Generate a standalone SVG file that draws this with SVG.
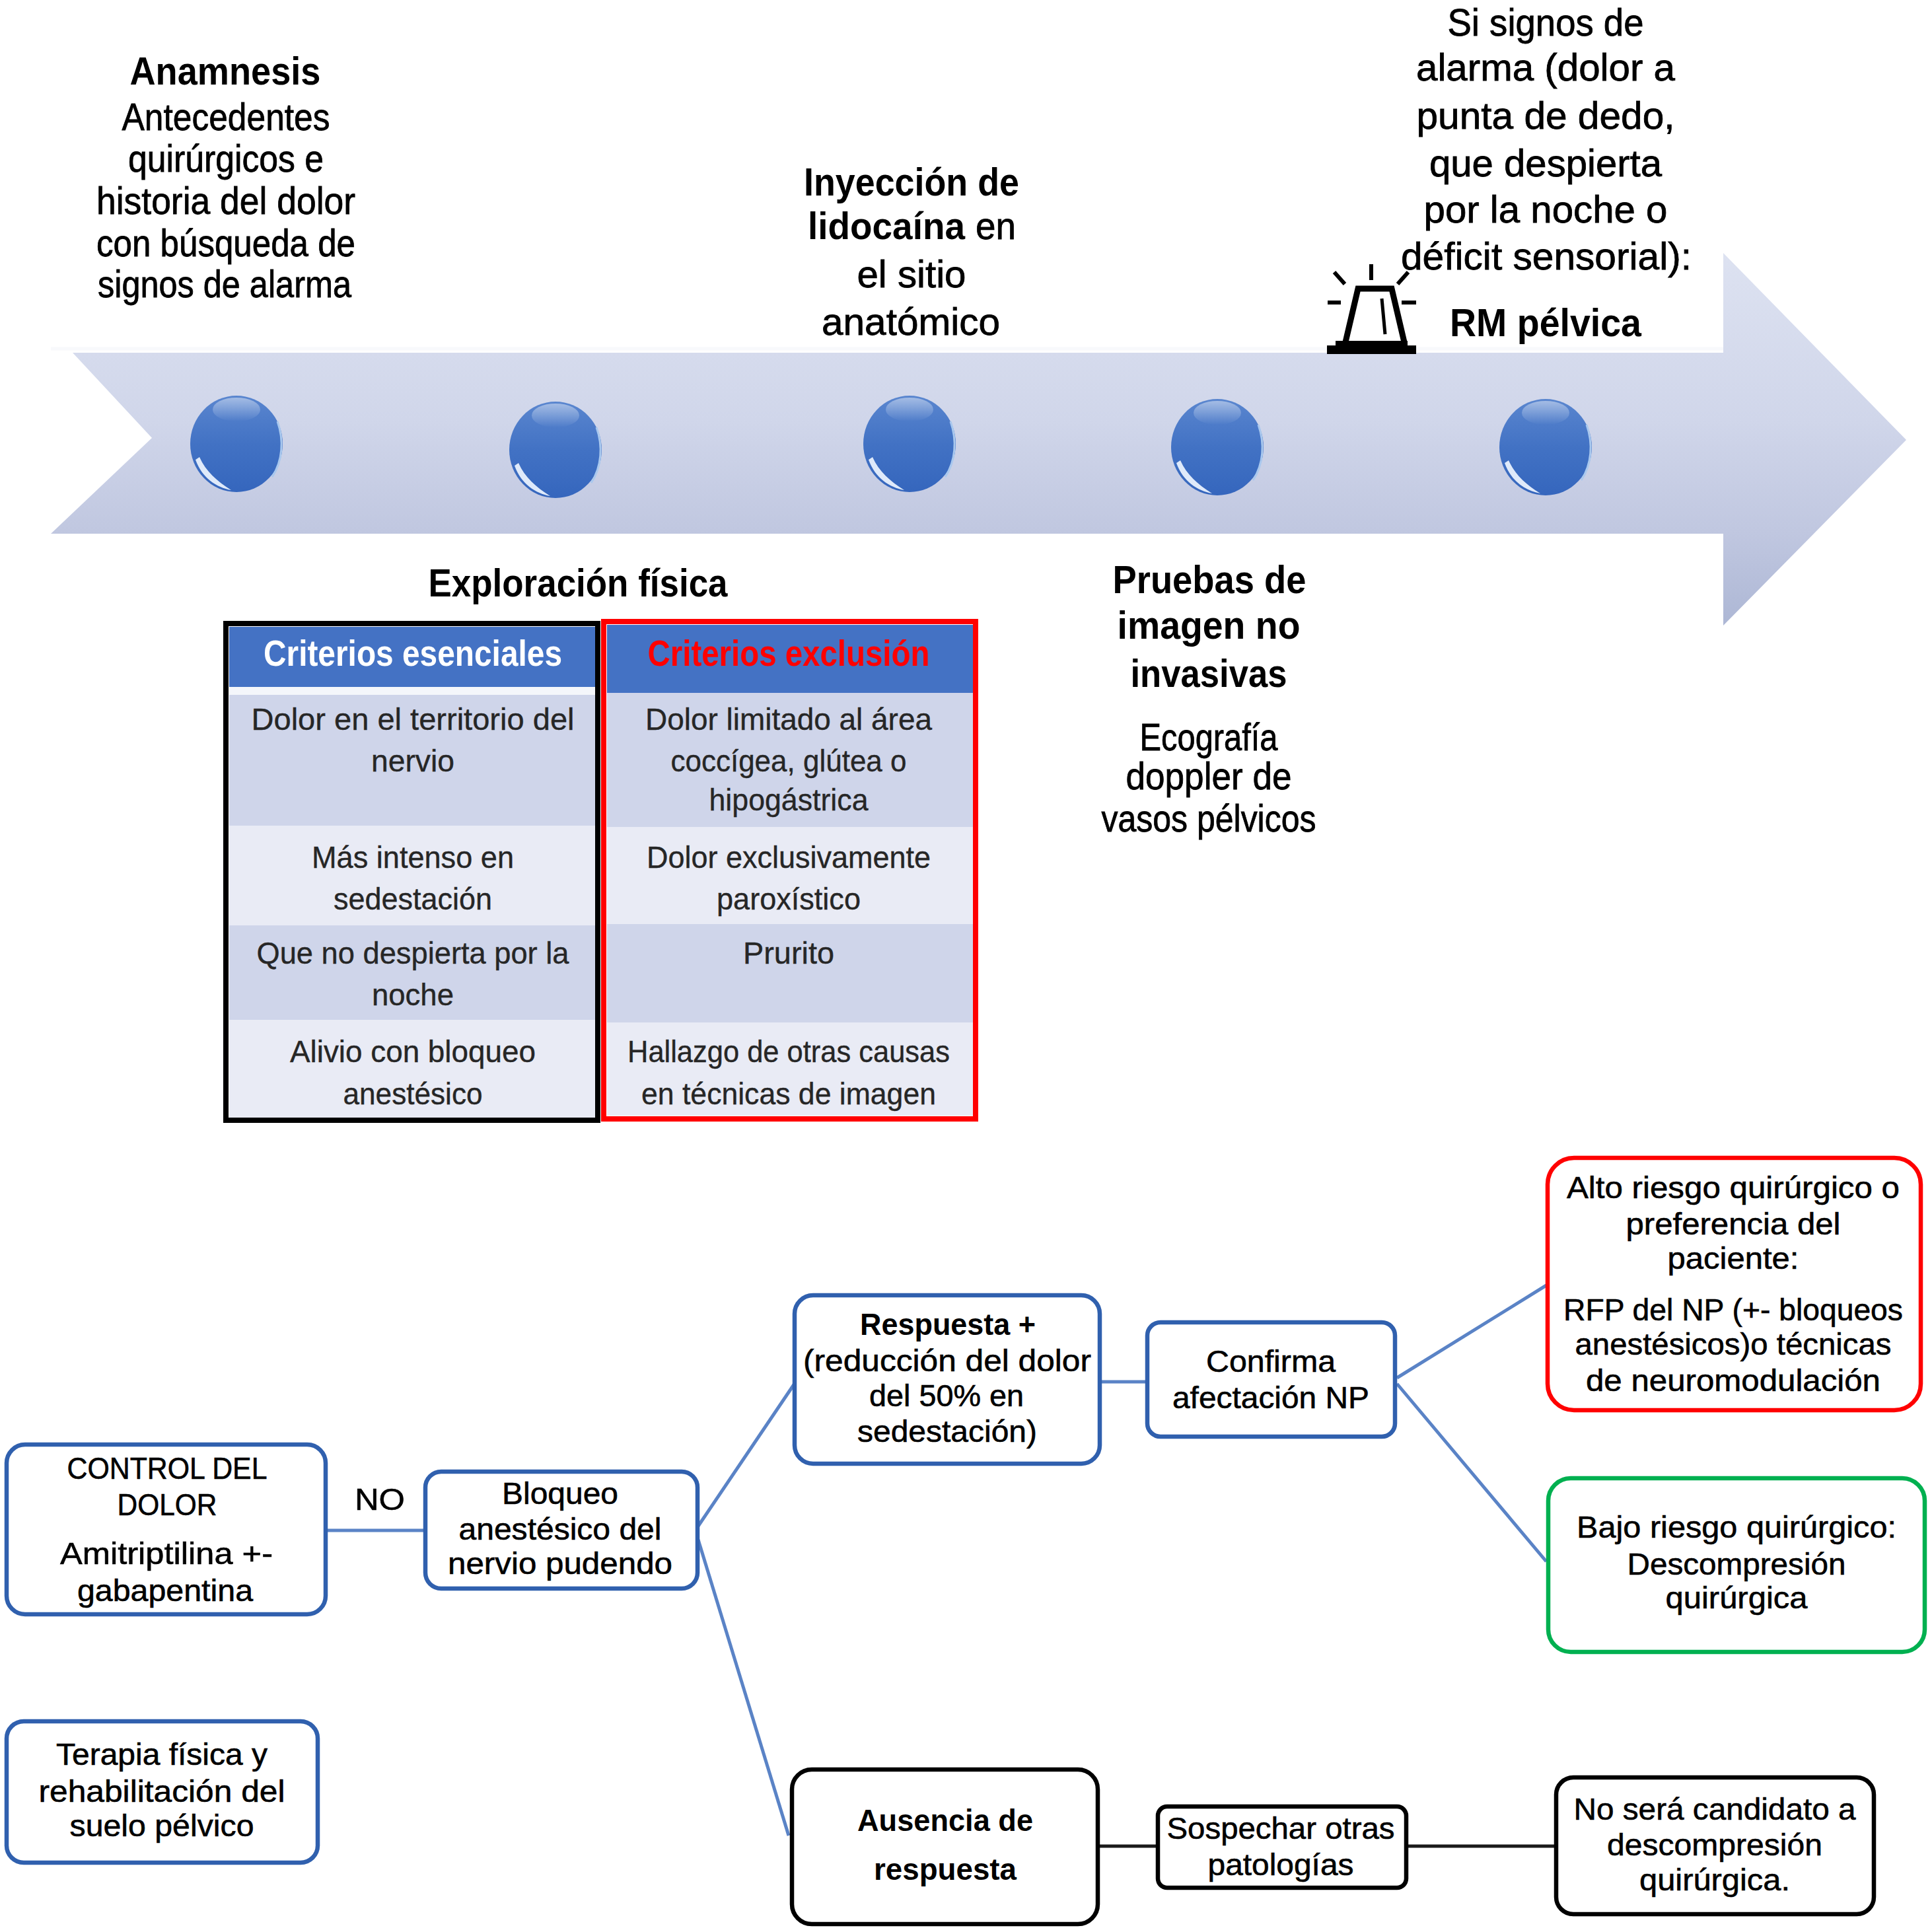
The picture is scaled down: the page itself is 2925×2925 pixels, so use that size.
<svg xmlns="http://www.w3.org/2000/svg" xmlns:xlink="http://www.w3.org/1999/xlink" width="2925" height="2925" viewBox="0 0 2925 2925">
<style>
text{font-family:"Liberation Sans",Arial,sans-serif;text-anchor:middle;fill:#000;}
.r{font-size:57px;stroke:#000;stroke-width:0.8px;}
.b{font-size:60px;font-weight:bold;}
.bb{font-size:57px;font-weight:bold;text-anchor:start;}
.rs{font-size:57px;stroke:#000;stroke-width:0.8px;text-anchor:start;}
.th{font-size:47px;fill:#262626;stroke:#262626;stroke-width:0.4px;}
.hd{font-size:56px;font-weight:bold;}
.f{font-size:46px;stroke:#000;stroke-width:0.6px;}
.fb{font-size:46px;font-weight:bold;}
.box{fill:#fff;stroke-width:6.5;}
.blue{stroke:#3060ae;}
.black{stroke:#000;}
.link{stroke:#5a83c6;stroke-width:5;fill:none;}
.linkk{stroke:#1a1a1a;stroke-width:5;fill:none;}
.c1{fill:#cfd5ea;}
.c2{fill:#e9ebf5;}
.hdr{fill:#4472c4;}
</style>
<defs>
<linearGradient id="arrowG" gradientUnits="userSpaceOnUse" x1="0" y1="383" x2="0" y2="947">
<stop offset="0" stop-color="#dde2f1"/><stop offset="0.45" stop-color="#d0d6ea"/><stop offset="0.75" stop-color="#c0c7e0"/><stop offset="1" stop-color="#adb7d5"/>
</linearGradient>
<linearGradient id="ballG" x1="0" y1="0" x2="0" y2="1">
<stop offset="0" stop-color="#5a86cf"/><stop offset="0.5" stop-color="#4272c4"/><stop offset="1" stop-color="#3566bd"/>
</linearGradient>
<linearGradient id="ballH" x1="0" y1="0" x2="0" y2="1">
<stop offset="0" stop-color="#fff" stop-opacity="0.45"/><stop offset="1" stop-color="#fff" stop-opacity="0"/>
</linearGradient>
<g id="ball">
<ellipse cx="0" cy="0" rx="70" ry="73" fill="url(#ballG)"/>
<ellipse cx="0" cy="-52" rx="36" ry="18" fill="url(#ballH)"/>
<path d="M-62,24 C-52,52 -30,66 -8,70 C-30,56 -46,42 -56,20 Z" fill="#dfeafa"/>
<path d="M62,-34 C72,-6 70,26 54,50" fill="none" stroke="#a9c8ee" stroke-width="3"/>
</g>
</defs>

<g id="timeline-arrow">
<path d="M77,528 H2610" stroke="#f8f9fc" stroke-width="5" fill="none"/>
<polygon points="110,534 2609,534 2609,383 2886,666 2609,947 2609,808 77,808 230,663" fill="url(#arrowG)"/>
</g>
<g id="ball-1"><use xlink:href="#ball" href="#ball" x="358" y="672"/></g>
<g id="ball-2"><use xlink:href="#ball" href="#ball" x="841" y="681"/></g>
<g id="ball-3"><use xlink:href="#ball" href="#ball" x="1377" y="672"/></g>
<g id="ball-4"><use xlink:href="#ball" href="#ball" x="1843" y="677"/></g>
<g id="ball-5"><use xlink:href="#ball" href="#ball" x="2340" y="677"/></g>

<g id="alarm-icon" fill="none" stroke="#000">
<rect x="2009" y="523" width="135" height="13" fill="#000" stroke="none"/>
<path d="M2022,523 V516 H2131 V523 Z" fill="#000" stroke="none"/>
<path d="M2037,518 L2056,437 H2107 L2126,518" stroke-width="9"/>
<path d="M2092,452 L2097,506" stroke-width="5"/>
<path d="M2076,400 V424 M2020,412 L2036,430 M2132,412 L2116,430 M2010,458 H2030 M2122,458 H2144" stroke-width="6"/>
</g>

<g id="anamnesis" transform="translate(0,2)">
<text class="b" x="341" y="126" textLength="289" lengthAdjust="spacingAndGlyphs">Anamnesis</text>
<text class="r" x="342" y="195" textLength="315" lengthAdjust="spacingAndGlyphs">Antecedentes</text>
<text class="r" x="342" y="258" textLength="296" lengthAdjust="spacingAndGlyphs">quirúrgicos e</text>
<text class="r" x="342" y="322" textLength="392" lengthAdjust="spacingAndGlyphs">historia del dolor</text>
<text class="r" x="342" y="386" textLength="392" lengthAdjust="spacingAndGlyphs">con búsqueda de</text>
<text class="r" x="340" y="448" textLength="384" lengthAdjust="spacingAndGlyphs">signos de alarma</text>
</g>
<g id="inyeccion" transform="translate(0,1)">
<text class="b" x="1380" y="295" textLength="326" lengthAdjust="spacingAndGlyphs">Inyección de</text>
<text class="bb" x="1223" y="361" textLength="238" lengthAdjust="spacingAndGlyphs">lidocaína</text>
<text class="rs" x="1477" y="361" textLength="61" lengthAdjust="spacingAndGlyphs">en</text>
<text class="r" x="1380" y="434" textLength="165" lengthAdjust="spacingAndGlyphs">el sitio</text>
<text class="r" x="1379" y="506" textLength="270" lengthAdjust="spacingAndGlyphs">anatómico</text>
</g>
<g id="signos-alarma" transform="translate(0,2)">
<text class="r" x="2340" y="52" textLength="297" lengthAdjust="spacingAndGlyphs">Si signos de</text>
<text class="r" x="2340" y="120" textLength="392" lengthAdjust="spacingAndGlyphs">alarma (dolor a</text>
<text class="r" x="2340" y="193" textLength="391" lengthAdjust="spacingAndGlyphs">punta de dedo,</text>
<text class="r" x="2340" y="265" textLength="352" lengthAdjust="spacingAndGlyphs">que despierta</text>
<text class="r" x="2340" y="335" textLength="369" lengthAdjust="spacingAndGlyphs">por la noche o</text>
<text class="r" x="2341" y="406" textLength="440" lengthAdjust="spacingAndGlyphs">déficit sensorial):</text>
<text class="b" x="2340" y="507" textLength="290" lengthAdjust="spacingAndGlyphs">RM pélvica</text>
</g>
<g id="exploracion" transform="translate(0,2)">
<text class="b" x="875" y="901" textLength="453" lengthAdjust="spacingAndGlyphs">Exploración física</text>
</g>
<g id="pruebas" transform="translate(0,2)">
<text class="b" x="1831" y="896" textLength="293" lengthAdjust="spacingAndGlyphs">Pruebas de</text>
<text class="b" x="1830" y="965" textLength="277" lengthAdjust="spacingAndGlyphs">imagen no</text>
<text class="b" x="1830" y="1038" textLength="237" lengthAdjust="spacingAndGlyphs">invasivas</text>
<text class="r" x="1830" y="1134" textLength="209" lengthAdjust="spacingAndGlyphs">Ecografía</text>
<text class="r" x="1830" y="1193" textLength="251" lengthAdjust="spacingAndGlyphs">doppler de</text>
<text class="r" x="1830" y="1257" textLength="325" lengthAdjust="spacingAndGlyphs">vasos pélvicos</text>
</g>

<g id="tabla-esenciales">
<rect class="hdr" x="347" y="949" width="554" height="91"/>
<rect fill="#f4f6fb" x="347" y="1040" width="554" height="12"/>
<rect class="c1" x="347" y="1052" width="554" height="198"/>
<rect class="c2" x="347" y="1250" width="554" height="151"/>
<rect class="c1" x="347" y="1401" width="554" height="143"/>
<rect class="c2" x="347" y="1544" width="554" height="148"/>
<rect x="342" y="944" width="563" height="752" fill="none" stroke="#000" stroke-width="8"/>
<text class="hd" x="625" y="1008" textLength="452" lengthAdjust="spacingAndGlyphs" style="fill:#fff">Criterios esenciales</text>
<text class="th" x="625" y="1105" textLength="489" lengthAdjust="spacingAndGlyphs">Dolor en el territorio del</text>
<text class="th" x="625" y="1168" textLength="126" lengthAdjust="spacingAndGlyphs">nervio</text>
<text class="th" x="625" y="1314" textLength="306" lengthAdjust="spacingAndGlyphs">Más intenso en</text>
<text class="th" x="625" y="1377" textLength="240" lengthAdjust="spacingAndGlyphs">sedestación</text>
<text class="th" x="625" y="1459" textLength="473" lengthAdjust="spacingAndGlyphs">Que no despierta por la</text>
<text class="th" x="625" y="1522" textLength="124" lengthAdjust="spacingAndGlyphs">noche</text>
<text class="th" x="625" y="1608" textLength="372" lengthAdjust="spacingAndGlyphs">Alivio con bloqueo</text>
<text class="th" x="625" y="1672" textLength="211" lengthAdjust="spacingAndGlyphs">anestésico</text>
</g>
<g id="tabla-exclusion">
<rect class="hdr" x="919" y="946" width="554" height="103"/>
<rect class="c1" x="919" y="1049" width="554" height="203"/>
<rect class="c2" x="919" y="1252" width="554" height="147"/>
<rect class="c1" x="919" y="1399" width="554" height="149"/>
<rect class="c2" x="919" y="1548" width="554" height="141"/>
<rect x="914" y="941" width="563" height="753" fill="none" stroke="#f00" stroke-width="8"/>
<text class="hd" x="1194" y="1008" textLength="427" lengthAdjust="spacingAndGlyphs" style="fill:#f00">Criterios exclusión</text>
<text class="th" x="1194" y="1105" textLength="434" lengthAdjust="spacingAndGlyphs">Dolor limitado al área</text>
<text class="th" x="1194" y="1168" textLength="357" lengthAdjust="spacingAndGlyphs">coccígea, glútea o</text>
<text class="th" x="1194" y="1227" textLength="241" lengthAdjust="spacingAndGlyphs">hipogástrica</text>
<text class="th" x="1194" y="1314" textLength="430" lengthAdjust="spacingAndGlyphs">Dolor exclusivamente</text>
<text class="th" x="1194" y="1377" textLength="218" lengthAdjust="spacingAndGlyphs">paroxístico</text>
<text class="th" x="1194" y="1459" textLength="138" lengthAdjust="spacingAndGlyphs">Prurito</text>
<text class="th" x="1194" y="1608" textLength="488" lengthAdjust="spacingAndGlyphs">Hallazgo de otras causas</text>
<text class="th" x="1194" y="1672" textLength="446" lengthAdjust="spacingAndGlyphs">en técnicas de imagen</text>
</g>

<g id="connectors">
<path class="link" d="M493,2317 H645"/>
<path class="link" d="M1056,2312 L1202,2096"/>
<path class="link" d="M1057,2331 L1194,2779"/>
<path class="link" d="M1665,2092 H1738"/>
<path class="link" d="M2115,2086 L2341,1946"/>
<path class="link" d="M2115,2095 L2341,2364"/>
<path class="linkk" d="M1662,2795 H1754"/>
<path class="linkk" d="M2130,2795 H2356"/>
</g>

<g id="control-dolor">
<rect class="box blue" x="10" y="2187" width="483" height="257" rx="28"/>
<text class="f" x="253" y="2239" textLength="303" lengthAdjust="spacingAndGlyphs">CONTROL DEL</text>
<text class="f" x="253" y="2294" textLength="151" lengthAdjust="spacingAndGlyphs">DOLOR</text>
<text class="f" x="252" y="2368" textLength="322" lengthAdjust="spacingAndGlyphs">Amitriptilina +-</text>
<text class="f" x="250" y="2424" textLength="266" lengthAdjust="spacingAndGlyphs">gabapentina</text>
</g>
<g id="no-label">
<text class="f" x="575" y="2286" textLength="76" lengthAdjust="spacingAndGlyphs">NO</text>
</g>
<g id="bloqueo">
<rect class="box blue" x="644" y="2228" width="412" height="177" rx="24"/>
<text class="f" x="848" y="2277" textLength="176" lengthAdjust="spacingAndGlyphs">Bloqueo</text>
<text class="f" x="848" y="2331" textLength="307" lengthAdjust="spacingAndGlyphs">anestésico del</text>
<text class="f" x="848" y="2383" textLength="340" lengthAdjust="spacingAndGlyphs">nervio pudendo</text>
</g>
<g id="terapia">
<rect class="box blue" x="10" y="2606" width="471" height="214" rx="26"/>
<text class="f" x="245" y="2672" textLength="320" lengthAdjust="spacingAndGlyphs">Terapia física y</text>
<text class="f" x="245" y="2728" textLength="373" lengthAdjust="spacingAndGlyphs">rehabilitación del</text>
<text class="f" x="245" y="2780" textLength="279" lengthAdjust="spacingAndGlyphs">suelo pélvico</text>
</g>
<g id="respuesta">
<rect class="box blue" x="1203" y="1961" width="462" height="255" rx="28"/>
<text class="fb" x="1435" y="2021" textLength="266" lengthAdjust="spacingAndGlyphs">Respuesta +</text>
<text class="f" x="1434" y="2076" textLength="436" lengthAdjust="spacingAndGlyphs">(reducción del dolor</text>
<text class="f" x="1433" y="2129" textLength="234" lengthAdjust="spacingAndGlyphs">del 50% en</text>
<text class="f" x="1434" y="2183" textLength="272" lengthAdjust="spacingAndGlyphs">sedestación)</text>
</g>
<g id="confirma">
<rect class="box blue" x="1737" y="2002" width="375" height="173" rx="20"/>
<text class="f" x="1924" y="2077" textLength="196" lengthAdjust="spacingAndGlyphs">Confirma</text>
<text class="f" x="1924" y="2132" textLength="298" lengthAdjust="spacingAndGlyphs">afectación NP</text>
</g>
<g id="alto-riesgo">
<rect class="box" stroke="#f00" x="2343" y="1753" width="565" height="382" rx="40"/>
<text class="f" x="2624" y="1814" textLength="504" lengthAdjust="spacingAndGlyphs">Alto riesgo quirúrgico o</text>
<text class="f" x="2624" y="1869" textLength="325" lengthAdjust="spacingAndGlyphs">preferencia del</text>
<text class="f" x="2624" y="1921" textLength="199" lengthAdjust="spacingAndGlyphs">paciente:</text>
<text class="f" x="2624" y="1999" textLength="514" lengthAdjust="spacingAndGlyphs">RFP del NP (+- bloqueos</text>
<text class="f" x="2624" y="2051" textLength="479" lengthAdjust="spacingAndGlyphs">anestésicos)o técnicas</text>
<text class="f" x="2624" y="2106" textLength="446" lengthAdjust="spacingAndGlyphs">de neuromodulación</text>
</g>
<g id="bajo-riesgo">
<rect class="box" stroke="#00b050" x="2344" y="2238" width="570" height="263" rx="34"/>
<text class="f" x="2629" y="2328" textLength="484" lengthAdjust="spacingAndGlyphs">Bajo riesgo quirúrgico:</text>
<text class="f" x="2629" y="2384" textLength="331" lengthAdjust="spacingAndGlyphs">Descompresión</text>
<text class="f" x="2629" y="2435" textLength="215" lengthAdjust="spacingAndGlyphs">quirúrgica</text>
</g>
<g id="ausencia">
<rect class="box black" x="1199" y="2679" width="463" height="234" rx="30"/>
<text class="fb" x="1431" y="2772" textLength="266" lengthAdjust="spacingAndGlyphs">Ausencia de</text>
<text class="fb" x="1431" y="2846" textLength="216" lengthAdjust="spacingAndGlyphs">respuesta</text>
</g>
<g id="sospechar">
<rect class="box black" x="1753" y="2735" width="376" height="123" rx="14"/>
<text class="f" x="1939" y="2784" textLength="345" lengthAdjust="spacingAndGlyphs">Sospechar otras</text>
<text class="f" x="1939" y="2839" textLength="221" lengthAdjust="spacingAndGlyphs">patologías</text>
</g>
<g id="no-candidato">
<rect class="box black" x="2356" y="2691" width="481" height="207" rx="26"/>
<text class="f" x="2596" y="2755" textLength="427" lengthAdjust="spacingAndGlyphs">No será candidato a</text>
<text class="f" x="2596" y="2809" textLength="326" lengthAdjust="spacingAndGlyphs">descompresión</text>
<text class="f" x="2596" y="2862" textLength="228" lengthAdjust="spacingAndGlyphs">quirúrgica.</text>
</g>
</svg>
